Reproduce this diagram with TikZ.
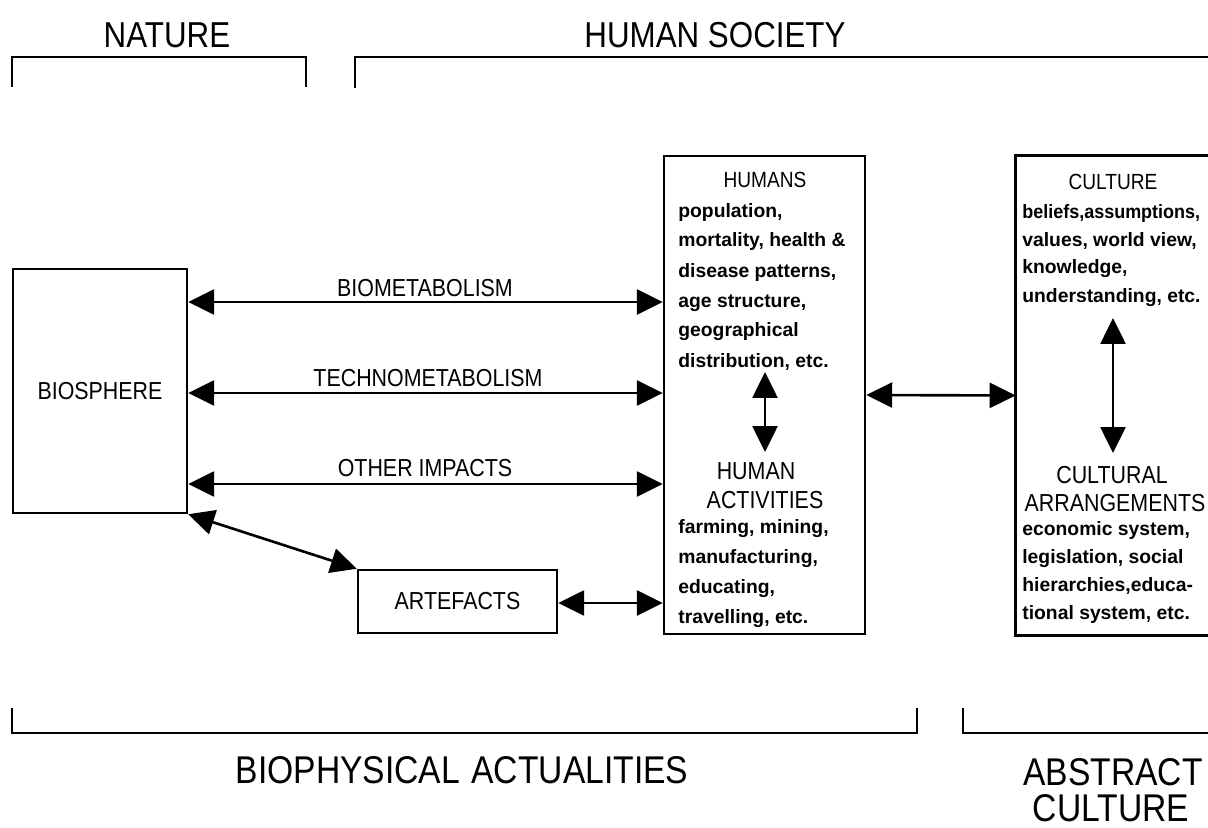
\documentclass[tikz,border=0pt]{standalone}
\usepackage{fontspec}
\setmainfont{Liberation Sans}
\newfontfamily\capsfont{Liberation Sans}[FakeStretch=0.87]
\newfontfamily\narrowbody{Liberation Sans}[FakeStretch=0.93]
\usetikzlibrary{arrows.meta}
\begin{document}
\begin{tikzpicture}[x=0.02cm,y=-0.02cm,
  box/.style={draw, line width=1.4pt, inner sep=0pt},
  conn/.style={line width=1.5pt, {Triangle[length=0.52cm,width=0.5cm]}-{Triangle[length=0.52cm,width=0.5cm]}},
  brk/.style={line width=1.6pt},
  bigtitle/.style={font=\capsfont\fontsize{20.5}{22}\selectfont, inner sep=0pt},
  hugetitle/.style={font=\capsfont\fontsize{22}{26}\selectfont, inner sep=0pt},
  lab/.style={font=\capsfont\fontsize{14}{16}\selectfont, inner sep=0pt},
  ttl/.style={font=\capsfont\fontsize{12.5}{14}\selectfont, inner sep=0pt},
  body/.style={font=\bfseries\fontsize{11}{13}\selectfont, inner sep=0pt, anchor=base west},
]
\useasboundingbox (0,0) rectangle (1208,828);

% brackets
\draw[brk] (12,87) -- (12,57) -- (306,57) -- (306,87);
\draw[brk] (355,88) -- (355,57) -- (1208,57);
\draw[brk] (12,708) -- (12,733) -- (917,733) -- (917,708);
\draw[brk] (963,708) -- (963,733) -- (1208,733);

\node[bigtitle] (nature) at (167,35) {NATURE};
\node[bigtitle] (society) at (715,35) {HUMAN SOCIETY};
\node[hugetitle] (biophys) at (462,770) {BIOPHYSICAL\hspace{0.3em}ACTUALITIES};
\node[hugetitle] (abstract) at (1113,772) {ABSTRACT};
\node[hugetitle] (abstractb) at (1111,808) {CULTURE};

% boxes
\node[box, lab, minimum width=3.48cm, minimum height=4.88cm] (biosphere) at (100,391) {BIOSPHERE};
\node[box, minimum width=4.02cm, minimum height=9.56cm] (humans) at (764.5,395) {};
\node[minimum width=3.84cm, minimum height=9.58cm, inner sep=0pt] (culture) at (1112,395.5) {};
\draw[box] (culture.north east) -- (culture.north west) -- (culture.south west) -- (culture.south east);
\node[box, lab, minimum width=3.98cm, minimum height=1.26cm] (artefacts) at (457.5,601.5) {ARTEFACTS};

% arrow labels
\node[lab] (bio) at (425,288) {BIOMETABOLISM};
\node[lab] (techno) at (428,378) {TECHNOMETABOLISM};
\node[lab] (other) at (425,468) {OTHER IMPACTS};

% connectors
\draw[conn] (biosphere.east |- 0,302) -- (humans.west |- 0,302);
\draw[conn] (biosphere.east |- 0,393) -- (humans.west |- 0,393);
\draw[conn] (biosphere.east |- 0,484) -- (humans.west |- 0,484);
\draw[conn] (biosphere.south east) -- (artefacts.north west);
\draw[conn] (artefacts.east |- 0,603) -- (humans.west |- 0,603);
\draw[conn] (humans.east) -- (culture.west);

% humans box text
\node[ttl] (htitle) at (765,180) {HUMANS};
\foreach \t [count=\i] in {{population,},{mortality, health \&},{disease patterns,},{age structure,},{geographical},{distribution, etc.}}
  \node[body] (hl\i) at (678,187+30*\i) {\t};
\node[lab] (hact) at (756,471) {HUMAN};
\node[lab] (hactb) at (765,500) {ACTIVITIES};
\foreach \t [count=\i] in {{farming, mining,},{manufacturing,},{educating,},{travelling, etc.}}
  \node[body] (al\i) at (678,503+30*\i) {\t};
\coordinate (hup) at (765,372);
\coordinate (hdn) at (765,452);
\draw[conn] (hup) -- (hdn);

% culture box text
\node[ttl] (ctitle) at (1113,182) {CULTURE};
\foreach \t [count=\i] in {{\narrowbody beliefs,assumptions,},{values, world view,},{knowledge,},{understanding, etc.}}
  \node[body] (cl\i) at (1022,190+28*\i) {\t};
\node[lab] (carr) at (1112,475) {CULTURAL};
\node[lab] (carrb) at (1115,503) {ARRANGEMENTS};
\foreach \t [count=\i] in {{economic system,},{legislation, social},{hierarchies,educa-},{tional system, etc.}}
  \node[body] (kl\i) at (1022,507+28*\i) {\t};
\coordinate (cup) at (1113,318);
\coordinate (cdn) at (1113,453);
\draw[conn] (cup) -- (cdn);
\end{tikzpicture}
\end{document}
